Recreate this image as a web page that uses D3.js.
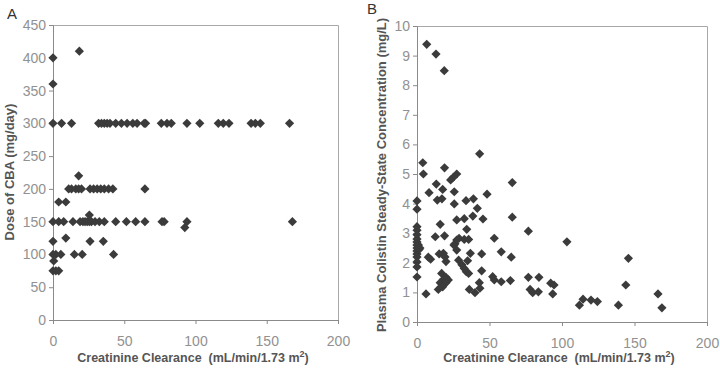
<!DOCTYPE html>
<html>
<head>
<meta charset="utf-8">
<script src="https://cdn.jsdelivr.net/npm/d3@7"></script>
<style>
  body { margin: 0; background: #fff; }
  svg { display: block; }
</style>
</head>
<body>
<div id="chart-area"></div>
<script>
// panel A: dose of CBA vs creatinine clearance
var doseClcr = [0,6,13,32,34,36,38,40,44,48,52,56,59,64,65,76,80,83,94,103,116,119.5,123.5,139,142,145.5,166,
  0,0,18.5,18,
  11,13,16,18,20,26,28.5,31,33.5,36,39,42,64.5,
  4,9,
  0,4,7.5,14,19,21,22.5,24,25.5,27,29.5,32.5,36,44,51.5,58,64.5,76.5,78,94,168,
  25.5,92.5,
  0,26,35.3,9,
  0,2,5.5,15,20.5,42.5,
  0.5,0,2,4];
var doseValue = [300,300,300,300,300,300,300,300,300,300,300,300,300,300,300,300,300,300,300,300,300,300,300,300,300,300,300,
  400,360,410,220,
  200,200,200,200,200,200,200,200,200,200,200,200,200,
  180,180,
  150,150,150,150,150,150,150,150,150,150,150,150,150,150,150,150,150,150,150,150,150,
  160,141,
  120,120,120,125,
  100,100,100,100,100,100,
  90,75,75,75];

// panel B: plasma colistin concentration vs creatinine clearance
var concClcr = [0,0,0,0,0,0,0,0,0,0,0,0,0,0,0,1,1.5,2,
  6.7,13.1,18.8,
  43.2,4,4.4,19,27.4,25.1,23.2,65.7,13.3,17.7,8.3,48.3,25.7,14,17.2,33.8,38.9,25.7,41.6,38.5,45.5,65.7,16,27.4,32.6,34.3,76.8,
  12.6,19,29,32.6,35.6,53.3,103.4,26.2,27.4,
  7.8,9.4,6.2,15.3,18.2,19.3,20,17,18.2,20,21.6,16,18.2,20,14.7,17.7,25.5,27.4,28.7,31,32.6,34,35.6,34.9,36.8,36.1,40,
  43,43.4,44.6,44.6,52.2,53.3,58.1,65,58.1,64.4,76.8,84.1,78,79.8,83.7,92.2,94.5,93.6,
  112,114.5,120,124.4,138.9,144,145.8,166.2,168.9];
var concValue = [4.09,3.81,3.22,3.1,2.95,2.8,2.7,2.6,2.5,2.4,2.3,2.2,2.03,1.86,1.52,2.6,2.45,2.5,
  9.38,9.05,8.49,
  5.68,5.38,5.0,5.21,5.0,4.89,4.8,4.71,4.66,4.48,4.37,4.32,4.4,4.12,4.16,4.1,4.16,3.99,3.84,3.58,3.48,3.54,3.3,3.45,3.49,3.13,3.07,
  2.88,2.91,2.83,2.79,2.79,2.83,2.71,2.64,2.77,
  2.19,2.12,0.95,2.3,2.32,2.2,2.04,1.64,1.44,1.51,1.42,1.33,1.25,1.33,1.1,1.19,2.6,2.43,2.09,1.93,1.81,1.7,1.64,2.07,2.32,1.1,0.99,
  1.33,1.14,1.73,2.3,1.53,1.42,2.37,2.19,1.36,1.4,1.51,1.51,1.1,0.99,1.02,1.31,1.25,0.95,
  0.57,0.77,0.74,0.69,0.57,1.25,2.15,0.95,0.48];

var xTicks = [0, 50, 100, 150, 200];
var doseTicks = [0, 50, 100, 150, 200, 250, 300, 350, 400, 450];
var concTicks = [0, 1, 2, 3, 4, 5, 6, 7, 8, 9, 10];

var svg = d3.select("#chart-area").append("svg")
    .attr("width", 720)
    .attr("height", 369)
    .style("font-family", "Liberation Sans, Arial, sans-serif");

var diamond = "M0,-4.6L4.6,0L0,4.6L-4.6,0Z";

function panel(opts) {
  var x = d3.scaleLinear().domain([0, 200]).range([opts.left, opts.right]);
  var y = d3.scaleLinear().domain([0, opts.ymax]).range([opts.bottom, opts.top]);

  // plot area border (top + right)
  svg.append("path")
    .attr("d", "M" + opts.left + "," + (opts.top + 0.5) + "H" + (opts.right + 0.5) + "V" + opts.bottom)
    .attr("fill", "none")
    .attr("stroke", "#a8a8a8")
    .attr("stroke-width", 1);

  var xAxis = svg.append("g")
    .attr("transform", "translate(0," + opts.bottom + ")")
    .call(d3.axisBottom(x).tickValues(xTicks).tickSize(4).tickPadding(12));
  var yAxis = svg.append("g")
    .attr("transform", "translate(" + opts.left + ",0)")
    .call(d3.axisLeft(y).tickValues(opts.yTicks).tickSize(4).tickPadding(3));

  [xAxis, yAxis].forEach(function(a) {
    a.select(".domain").attr("stroke", "#8a8a8a");
    a.selectAll(".tick line").attr("stroke", "#8a8a8a");
    a.selectAll(".tick text")
      .attr("fill", "#919191")
      .style("font-size", "14px")
      .style("font-family", "Liberation Sans, Arial, sans-serif");
  });

  svg.append("g").selectAll("path")
    .data(opts.xs)
    .enter().append("path")
      .attr("d", diamond)
      .attr("transform", function(d, i) { return "translate(" + x(d) + "," + y(opts.ys[i]) + ")"; })
      .attr("fill", "#3b3b3b");

  var xt = svg.append("text")
    .attr("x", opts.xTitleX)
    .attr("y", 362)
    .attr("text-anchor", "middle")
    .attr("fill", "#555")
    .style("font-size", "12.5px")
    .style("font-weight", "bold");
  xt.append("tspan").text("Creatinine Clearance\u00a0 (mL/min/1.73 m");
  xt.append("tspan").attr("dy", -5).style("font-size", "9px").text("2");
  xt.append("tspan").attr("dy", 5).text(")");

  svg.append("text")
    .attr("transform", "translate(" + opts.titleX + "," + opts.titleY + ") rotate(-90)")
    .attr("text-anchor", "middle")
    .attr("fill", "#555")
    .style("font-size", "13px")
    .style("font-weight", "bold")
    .text(opts.yTitle);

  svg.append("text")
    .attr("x", opts.letterX)
    .attr("y", opts.letterY)
    .attr("fill", "#333")
    .style("font-size", "15px")
    .text(opts.letter);
}

panel({left: 53, right: 338, top: 25, bottom: 320, ymax: 450, yTicks: doseTicks,
  xs: doseClcr, ys: doseValue, yTitle: "Dose of CBA (mg/day)", titleX: 14, titleY: 172,
  xTitleX: 193, letter: "A", letterX: 7, letterY: 19});
panel({left: 417, right: 707, top: 26, bottom: 322, ymax: 10, yTicks: concTicks,
  xs: concClcr, ys: concValue, yTitle: "Plasma Colistin Steady-State Concentration (mg/L)", titleX: 386, titleY: 175,
  xTitleX: 559, letter: "B", letterX: 367, letterY: 14});
</script>
</body>
</html>
